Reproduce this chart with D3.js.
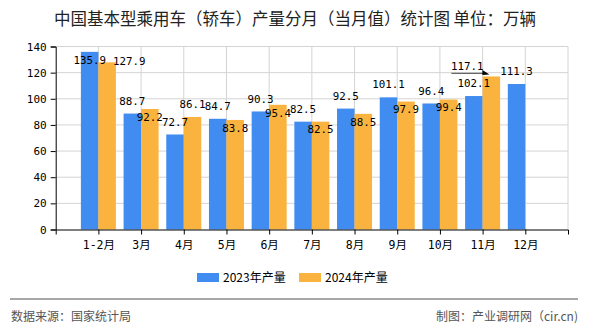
<!DOCTYPE html>
<html>
<head>
<meta charset="utf-8">
<script src="https://cdn.jsdelivr.net/npm/d3@7"></script>
<style>
  html, body { margin: 0; padding: 0; background: #fff; }
  svg { display: block; }
</style>
</head>
<body>
<div id="chart"></div>
<script>
// ---------- data ----------
const categories = ["1-2月", "3月", "4月", "5月", "6月", "7月", "8月", "9月", "10月", "11月", "12月"];
const values2023 = [135.9, 88.7, 72.7, 84.7, 90.3, 82.5, 92.5, 101.1, 96.4, 102.1, 111.3];
const values2024 = [127.9, 92.2, 86.1, 83.8, 95.4, 82.5, 88.5, 97.9, 99.4, 117.1, null];
const seriesNames = ["2023年产量", "2024年产量"];
const yTicks = [0, 20, 40, 60, 80, 100, 120, 140];
const titleText = "中国基本型乘用车（轿车）产量分月（当月值）统计图 单位：万辆";
const sourceText = "数据来源：国家统计局";
const creditText = "制图：产业调研网（cir.cn)";

// label placement (layout only)
const place2023 = ["inside", "top", "top", "top", "top", "top", "top", "top", "top", "top", "top"];
const place2024 = ["right", "inside", "top", "inside", "inside", "inside", "inside", "inside", "inside", "leader", null];

// ---------- layout ----------
const W = 590, H = 330;
const colors = ["#418cf0", "#fbb33f"];
const plot = { left: 55.7, right: 568, top: 46.5, bottom: 229.5 };

const svg = d3.select("#chart").append("svg").attr("width", W).attr("height", H);

const x = d3.scalePoint().domain(categories).range([plot.left, plot.right]).padding(1);
const y = d3.scaleLinear().domain([0, 140]).range([plot.bottom, plot.top]);
const barW = x.step() * 0.41;

const numFont = "'DejaVu Sans Mono', 'Noto Sans CJK SC', monospace";
const cjkFont = "'Noto Sans CJK SC', 'Noto Sans', sans-serif";

// title
svg.append("text").attr("x", W / 2).attr("y", 19).attr("dy", "0.35em")
  .attr("text-anchor", "middle").attr("font-family", cjkFont).attr("font-size", 16.5)
  .attr("fill", "#222").text(titleText);

// horizontal grid
svg.append("g").selectAll("line").data(yTicks.filter(d => d > 0)).join("line")
  .attr("x1", plot.left).attr("x2", plot.right)
  .attr("y1", d => y(d)).attr("y2", d => y(d))
  .attr("stroke", "#d4d4d4").attr("stroke-width", 1);

// vertical grid at category centres + right border
svg.append("g").selectAll("line").data(categories).join("line")
  .attr("x1", d => x(d)).attr("x2", d => x(d))
  .attr("y1", plot.top).attr("y2", plot.bottom)
  .attr("stroke", "#d4d4d4").attr("stroke-width", 1);
svg.append("line").attr("x1", plot.right).attr("x2", plot.right)
  .attr("y1", plot.top).attr("y2", plot.bottom).attr("stroke", "#d4d4d4");

// bars
const g2023 = svg.append("g");
g2023.selectAll("rect").data(values2023.map((v, i) => ({ v, c: categories[i] }))).join("rect")
  .attr("x", d => x(d.c) - barW).attr("width", barW)
  .attr("y", d => y(d.v)).attr("height", d => y(0) - y(d.v))
  .attr("fill", colors[0]);
const g2024 = svg.append("g");
g2024.selectAll("rect").data(values2024.map((v, i) => ({ v, c: categories[i] })).filter(d => d.v != null)).join("rect")
  .attr("x", d => x(d.c)).attr("width", barW)
  .attr("y", d => y(d.v)).attr("height", d => y(0) - y(d.v))
  .attr("fill", colors[1]);

// axes
const yAxis = d3.axisLeft(y).tickValues(yTicks).tickSize(5).tickPadding(4);
const gy = svg.append("g").attr("transform", `translate(${plot.left},0)`).call(yAxis);
gy.select(".domain").attr("stroke", "#000");
gy.selectAll(".tick line").attr("stroke", "#000");
gy.selectAll("text").attr("font-family", numFont).attr("font-size", 11).attr("fill", "#000");

const xAxis = d3.axisBottom(x).tickSize(5).tickSizeOuter(5).tickPadding(4);
const gx = svg.append("g").attr("transform", `translate(0,${plot.bottom})`).call(xAxis);
gx.select(".domain").attr("stroke", "#000");
gx.selectAll(".tick line").attr("stroke", "#000");
gx.selectAll("text").attr("font-family", numFont).attr("font-size", 11.5).attr("fill", "#000").attr("dy", "0.95em");

// value labels
function labelPos(v, c, place, side) {
  const cx = side === 0 ? x(c) - barW / 2 : x(c) + barW / 2;
  const top = y(v);
  if (place === "top") return [cx, top - 12.7];
  if (place === "inside") return [cx, top + 8];
  if (place === "right") return [cx + 22, top - 1.3];
  if (place === "leader") return [cx - 24, top - 10.7];
  return [cx, top - 12.7];
}
const labelG = svg.append("g").attr("font-family", numFont).attr("font-size", 10.8).attr("fill", "#000");
values2023.forEach((v, i) => {
  const [lx, ly] = labelPos(v, categories[i], place2023[i], 0);
  labelG.append("text").attr("x", lx).attr("y", ly).attr("dy", "0.35em").attr("text-anchor", "middle").text(v.toFixed(1));
});
values2024.forEach((v, i) => {
  if (v == null) return;
  const [lx, ly] = labelPos(v, categories[i], place2024[i], 1);
  if (place2024[i] === "leader") {
    const bx = x(categories[i]) + barW / 2;
    const ty = y(v) - 3;
    svg.append("line").attr("x1", lx - 16).attr("x2", bx - 5).attr("y1", ty).attr("y2", ty)
      .attr("stroke", "#666").attr("stroke-width", 1.2);
    svg.append("path").attr("d", `M${bx - 9},${ty - 3.5} L${bx - 2},${ty + 1} L${bx - 9},${ty + 1.5} Z`).attr("fill", "#000");
  }
  labelG.append("text").attr("x", lx).attr("y", ly).attr("dy", "0.35em").attr("text-anchor", "middle").text(v.toFixed(1));
});

// legend
const legend = svg.append("g").attr("font-family", cjkFont).attr("font-size", 12).attr("fill", "#000");
const legendX = [197, 299];
seriesNames.forEach((n, i) => {
  legend.append("rect").attr("x", legendX[i]).attr("y", 273).attr("width", 22).attr("height", 9).attr("fill", colors[i]);
  legend.append("text").attr("x", legendX[i] + 26).attr("y", 277.5).attr("dy", "0.35em").text(n);
});

// footer
svg.append("line").attr("x1", 10).attr("x2", 578).attr("y1", 299).attr("y2", 299).attr("stroke", "#8a8a8a").attr("stroke-width", 1.5);
svg.append("text").attr("x", 11).attr("y", 316.5).attr("dy", "0.35em").attr("font-family", cjkFont)
  .attr("font-size", 12).attr("fill", "#555").text(sourceText);
svg.append("text").attr("x", 578).attr("y", 316.5).attr("dy", "0.35em").attr("text-anchor", "end").attr("font-family", cjkFont)
  .attr("font-size", 12).attr("fill", "#555").text(creditText);
</script>
</body>
</html>
